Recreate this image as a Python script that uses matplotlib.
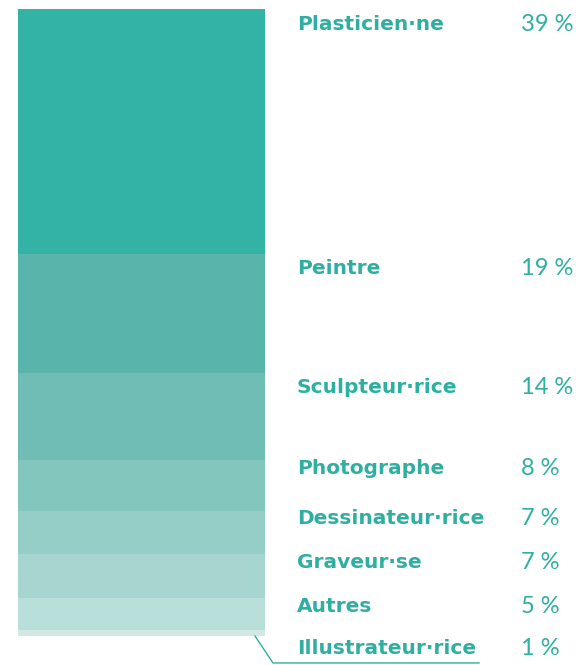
import matplotlib.pyplot as plt

# Répartition par discipline (%)
labels = ['Plasticien·ne', 'Peintre', 'Sculpteur·rice', 'Photographe',
          'Dessinateur·rice', 'Graveur·se', 'Autres', 'Illustrateur·rice']
values = [39, 19, 14, 8, 7, 7, 5, 1]
colors = ['#33b2a6', '#59b5ac', '#6fbdb5', '#83c6bd', '#94cec6',
          '#a7d6d1', '#b9dfda', '#d1e8e4']
teal = '#2eafa2'

fig = plt.figure(figsize=(5.82, 6.65), dpi=100)
# axes covers the bar height; x in pixel units
ax = fig.add_axes([0, 29 / 665, 1, 627 / 665])
ax.set_xlim(0, 582)
ax.set_ylim(100, 0)
ax.axis('off')

bottom = 0
prev_y = -100
for lab, v, c in zip(labels, values, colors):
    ax.bar(18, v, width=247, bottom=bottom, color=c, align='edge')
    # label near the top of each segment, pushed down if too close
    off = 2.4 if v >= 10 else 1.3
    y = max(bottom + off, prev_y + 6.7)
    ax.text(297, y, lab, color=teal, fontsize=14.5, fontweight='bold',
            family='DejaVu Sans', va='center', clip_on=False)
    ax.text(521, y, f'{v} %', color=teal, fontsize=17, fontweight='normal',
            family='Lato', va='center', clip_on=False)
    prev_y = y
    bottom += v

# leader line for the thin last segment
ax.plot([255, 273, 479], [100, prev_y + 2.3, prev_y + 2.3], color=teal,
        lw=1, clip_on=False)

fig.savefig('out.png', dpi=100)
